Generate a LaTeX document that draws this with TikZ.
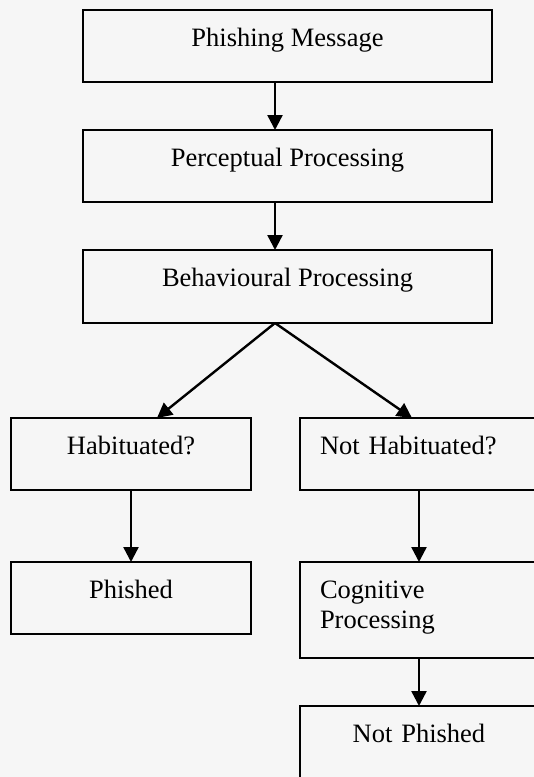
\documentclass[tikz,border=0pt]{standalone}
\usepackage{xcolor}
\usepackage{fontspec}
\setmainfont{Liberation Serif}
\usepackage{tikz}
\usetikzlibrary{arrows.meta}
\definecolor{paper}{RGB}{246,246,246}
\tikzset{
  stage/.style = {draw, line width=2.6pt, outer sep=0pt, inner xsep=0pt, inner ysep=0pt,
    text height=36pt, text depth=36pt, font=\fontsize{26.5}{30}\selectfont},
  topstage/.style = {stage, anchor=north, minimum width=409pt},
  leftstage/.style = {stage, anchor=north, minimum width=240pt},
  rightstage/.style = {stage, anchor=north west, inner xsep=20pt, text width=198pt},
  flow/.style = {line width=2.4pt, -{Triangle[length=15pt,width=15pt]}}
}

\begin{document}
\begin{tikzpicture} [x=1pt, y=-1pt]
\useasboundingbox (0,0) rectangle (534,777);
\fill[paper] (0,0) rectangle (534,777);
\clip (0,0) rectangle (534,777);
% main chain
\node[topstage] (msg)   at (287.5,10)  {Phishing Message};
\node[topstage] (perc)  at (287.5,130) {Perceptual Processing};
\node[topstage, text depth=37pt] (behav) at (287.5,250) {Behavioural Processing};
% two branches
\node[leftstage]  (hab)    at (131,418) {Habituated?};
\node[rightstage, align=left] (nothab) at (300,418) {Not Habituated?};
\node[leftstage]  (phished) at (131,562) {Phished};
\node[rightstage, align=left, text depth=60pt] (cogn) at (300,562) {Cognitive\\Processing};
\node[rightstage, align=center, text depth=40pt] (notphished) at (300,706) {Not Phished};
% connectors
\draw[flow] ([xshift=-12.5pt]msg.south)  -- ([xshift=-12.5pt]perc.north);
\draw[flow] ([xshift=-12.5pt]perc.south) -- ([xshift=-12.5pt]behav.north);
\draw[flow] ([xshift=-12.5pt]behav.south) -- ([xshift=26pt]hab.north);
\draw[flow] ([xshift=-12.5pt]behav.south) -- ([xshift=-7pt]nothab.north);
\draw[flow] (hab.south) -- (phished.north);
\draw[flow] (nothab.south) -- (cogn.north);
\draw[flow] (cogn.south) -- (notphished.north);
\end{tikzpicture}
\end{document}
